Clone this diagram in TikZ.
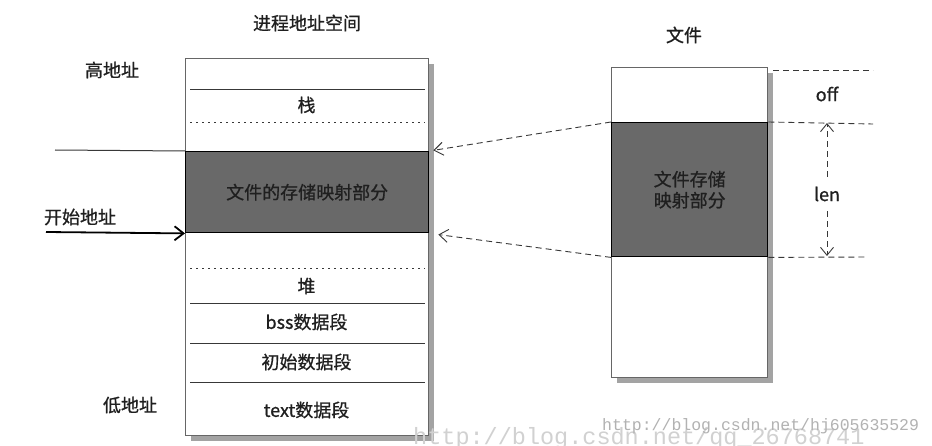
\documentclass[tikz,border=0pt]{standalone}
\usepackage{fontspec}
\setmainfont{Noto Sans CJK SC}[FakeBold=0.8]
\setmonofont{Liberation Mono}
\usetikzlibrary{arrows.meta}

\begin{document}
\begin{tikzpicture}[x=1pt,y=1pt]
\definecolor[named]{textColor}{rgb}{0.12,0.12,0.12}
\definecolor[named]{boxColor}{rgb}{0.40,0.40,0.40}
\definecolor[named]{lineColor}{rgb}{0.22,0.22,0.22}
\definecolor[named]{shadowColor}{rgb}{0.64,0.64,0.64}
\definecolor[named]{mapColor}{rgb}{0.41,0.41,0.41}
\definecolor[named]{markColor}{rgb}{0.82,0.82,0.82}
\tikzset{
  lbl/.style={text=textColor,inner sep=0pt,outer sep=0pt,font=\fontsize{18}{21}\selectfont},
  membox/.style={draw=boxColor,fill=white,line width=1.2pt,inner sep=0pt,anchor=north west},
  mapbox/.style={draw=black,fill=mapColor,line width=1.4pt,inner sep=0pt,anchor=north west,
    text=textColor,font=\fontsize{18}{21}\selectfont,align=center},
  memline/.style={draw=lineColor,line width=1pt},
  gapline/.style={draw=lineColor,line width=0.9pt,dash pattern=on 2pt off 4pt},
  offline/.style={draw=lineColor,line width=0.9pt,dash pattern=on 6pt off 4pt},
  maparrow/.style={draw=lineColor,line width=0.9pt,dash pattern=on 6pt off 4pt,
    -{Straight Barb[length=9pt,width=13pt]}},
  dimarrow/.style={draw=lineColor,line width=0.9pt,dash pattern=on 6pt off 4pt,
    -{Straight Barb[length=8pt,width=13pt]}},
  startarrow/.style={draw=black,line width=1.8pt,-{Straight Barb[length=9pt,width=14pt]}}
}
\path[use as bounding box,fill=white] (0,0) rectangle (932,445);

% process address space
\node[lbl] (ptitle) at (307,422) {进程地址空间};
\path[fill=shadowColor] (191,4) rectangle (434,381);
\node[membox,minimum width=243pt,minimum height=377pt] (proc) at (185,387) {};
\path[memline] (190,355) -- (425,355);
\node[lbl] (stack) at (306.5,340) {栈};
\path[gapline] (190,323) -- (425,323);
\node[mapbox,minimum width=243pt,minimum height=81pt] (pmap) at (185,294) {文件的存储映射部分};
\path[gapline] (190,177) -- (425,177);
\node[lbl] (heap) at (306.5,159) {堆};
\path[memline] (190,142) -- (425,142);
\node[lbl] (bss) at (306.5,123) {bss数据段};
\path[memline] (190,102) -- (425,102);
\node[lbl] (data) at (306.5,83) {初始数据段};
\path[memline] (190,63) -- (425,63);
\node[lbl] (text) at (306.5,35) {text数据段};

\node[lbl] (high) at (112,375) {高地址};
\node[lbl] (low) at (130,40) {低地址};
\node[lbl] (start) at (80,228) {开始地址};
\coordinate (topend) at (55,295);
\coordinate (startend) at (46,213);
\path[draw=lineColor,line width=1pt] (topend) -- (pmap.north west);
\draw[startarrow] (startend) -- (pmap.south west);

% file
\node[lbl] (ftitle) at (684,410) {文件};
\path[fill=shadowColor] (617,62) rectangle (773,372);
\node[membox,minimum width=156pt,minimum height=310pt] (file) at (611,378) {};
\node[mapbox,minimum width=156pt,minimum height=134pt] (fmap) at (611,323) {文件存储\\映射部分};

\path[offline] (773,375) -- (873,375);
\path[offline] (fmap.north east) -- (873,321);
\path[offline] (fmap.south east) -- (867,188);
\node[lbl] (off) at (827,351) {off};
\node[lbl] (len) at (827,251) {len};
\draw[dimarrow,shorten <=10pt] (len.north) -- (827,322);
\draw[dimarrow,shorten <=10pt] (len.south) -- (827,189);

\draw[maparrow,shorten >=4pt] (fmap.north west) -- (pmap.north east);
\draw[maparrow,shorten >=9pt] (fmap.south west) -- (pmap.south east);

% watermarks
\node[text=markColor,inner sep=0pt,anchor=base west,font=\ttfamily\fontsize{23.5}{24}\selectfont] (mark1) at (413,1) {http://blog.csdn.net/qq\_26768741};
\node[text=markColor!85!black,inner sep=0pt,anchor=base west,font=\ttfamily\fontsize{16.5}{17}\selectfont] (mark2) at (602,15) {http://blog.csdn.net/hj605635529};
\end{tikzpicture}
\end{document}
